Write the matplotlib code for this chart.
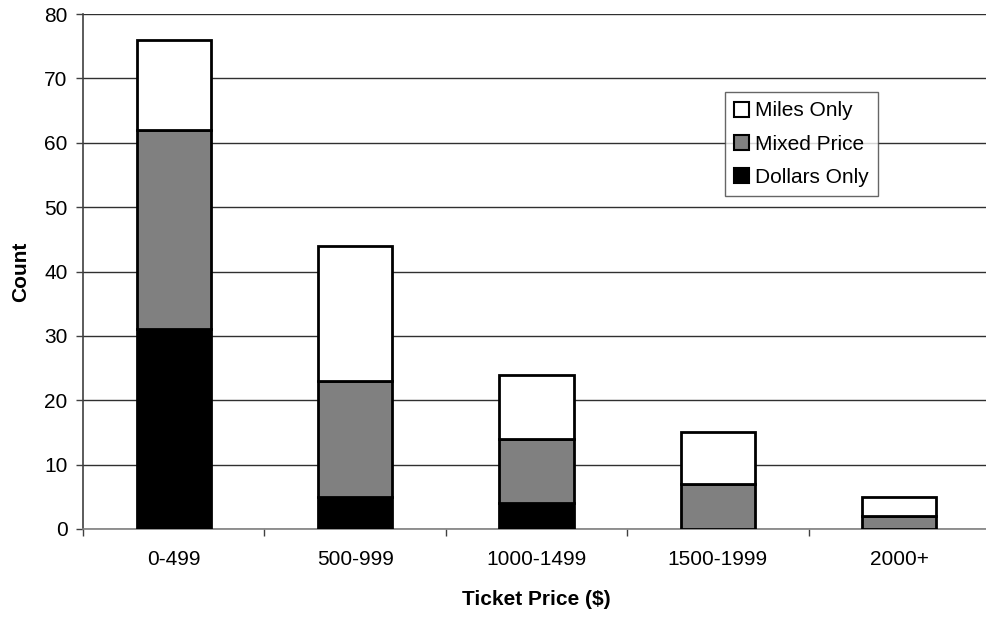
import matplotlib
matplotlib.use("Agg")
import matplotlib.pyplot as plt
from matplotlib.patches import Patch
import numpy as np

plt.rcParams['font.family'] = ['Liberation Sans', 'DejaVu Sans']

categories = ["0-499", "500-999", "1000-1499", "1500-1999", "2000+"]
dollars_only = [31, 5, 4, 0, 0]
mixed_price = [31, 18, 10, 7, 2]
miles_only = [14, 21, 10, 8, 3]
yticks = [0, 10, 20, 30, 40, 50, 60, 70, 80]

FS = 15

fig = plt.figure(figsize=(9.86, 6.17), dpi=100)
ax = fig.add_axes([83 / 986, 1 - 529 / 617, (990 - 83) / 986, (529 - 14) / 617])

x = np.arange(len(categories))
w = 0.41
d = np.array(dollars_only)
m = np.array(mixed_price)
mi = np.array(miles_only)

kw = dict(width=w, edgecolor='black', linewidth=2.0, zorder=3)
# stacked segments; zero-height pieces are skipped so no stray outlines appear
for i in range(len(x)):
    if d[i] > 0:
        ax.bar(x[i], d[i], color='black', **kw)
    if m[i] > 0:
        ax.bar(x[i], m[i], bottom=d[i], color='#808080', **kw)
    if mi[i] > 0:
        ax.bar(x[i], mi[i], bottom=d[i] + m[i], color='white', **kw)

handles = [Patch(facecolor='white', edgecolor='black', lw=1.5, label='Miles Only'),
           Patch(facecolor='#808080', edgecolor='black', lw=1.5, label='Mixed Price'),
           Patch(facecolor='black', edgecolor='black', lw=1.5, label='Dollars Only')]

ax.set_xlim(-0.5, 4.5)
ax.set_ylim(0, 80)
ax.set_yticks(yticks)
ax.set_yticklabels([str(v) for v in yticks], fontsize=FS)
ax.set_xticks(x)
ax.set_xticklabels(categories, fontsize=FS)
ax.tick_params(axis='x', length=0, pad=15)
ax.set_xticks(np.arange(len(categories) + 1) - 0.5, minor=True)
ax.tick_params(axis='x', which='minor', length=5, width=1, color='#404040', direction='out')
ax.tick_params(axis='y', length=5, width=1, color='#404040', direction='out', pad=6)

ax.yaxis.grid(True, color='#303030', linewidth=1.0, zorder=0)
ax.set_axisbelow(True)
for s in ['top', 'right']:
    ax.spines[s].set_visible(False)
ax.spines['left'].set_color('#404040')
ax.spines['bottom'].set_color('#808080')
ax.spines['left'].set_linewidth(1.2)
ax.spines['bottom'].set_linewidth(1.2)

ax.set_xlabel('Ticket Price ($)', fontsize=FS, fontweight='bold', labelpad=15)
ax.set_ylabel('Count', fontsize=FS, fontweight='bold', labelpad=10)

leg = ax.legend(handles=handles, loc='upper left', bbox_to_anchor=((725 - 83) / 907, 1 - (92 - 14) / 515),
                fontsize=FS, frameon=True, fancybox=False, handlelength=0.72, handleheight=0.72,
                handletextpad=0.25, borderpad=0.45, labelspacing=0.68, borderaxespad=0)
leg.get_frame().set_edgecolor('#404040')
leg.get_frame().set_linewidth(1.0)

fig.savefig('out.png', dpi=100)
